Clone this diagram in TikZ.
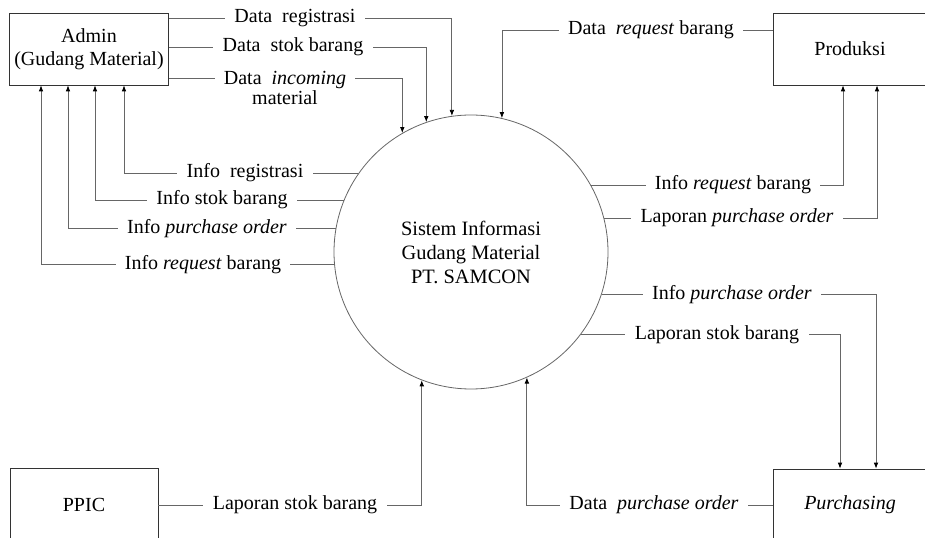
\documentclass[tikz,border=0pt]{standalone}
\usepackage{fontspec}
\setmainfont{LiberationSerif}[Extension=.ttf, UprightFont=*-Regular, ItalicFont=*-Italic, BoldFont=*-Bold, BoldItalicFont=*-BoldItalic]
\usetikzlibrary{arrows.meta}
\tikzset{
  box/.style={draw=black!80, line width=0.6pt, rectangle, minimum height=54pt, align=center, font=\fontsize{15}{17}\selectfont},
  proc/.style={draw=black!60, line width=0.6pt, circle, minimum size=205.5pt, inner sep=0pt, align=center, font=\fontsize{15.3}{18}\selectfont},
  flow/.style={draw=black!60, line width=0.6pt, -{Latex[black, length=4.5pt, width=3.5pt]}},
  lbl/.style={fill=white, inner xsep=7pt, inner ysep=1pt, align=center, font=\fontsize{15}{15}\selectfont}
}
\begin{document}
\begin{tikzpicture}[x=0.75pt, y=-0.75pt]
\useasboundingbox (0,0) rectangle (925,538);
\clip (0,0) rectangle (925,538);
% external entities
\node[box, minimum width=118.5pt] (admin) at (89,49) {Admin\\(Gudang Material)};
\node[box, minimum width=115.5pt] (prod) at (850,49) {Produksi};
\node[box, minimum width=111pt, minimum height=55.5pt] (ppic) at (84,505) {PPIC};
\node[box, minimum width=115.5pt] (purch) at (850,505) {\textit{Purchasing}};
% process
\node[proc] (sim) at (471,252) {Sistem Informasi\\Gudang Material\\PT. SAMCON};
% admin -> sistem
\draw[flow] (admin.east |- 0,18) -| (sim.98);
\draw[flow] (admin.east |- 0,47) -| (sim.109);
\draw[flow] (admin.east |- 0,78) -| (sim.120);
% sistem -> admin
\draw[flow] (sim.145) -| (admin.south -| 124,0);
\draw[flow] (sim.158) -| (admin.south -| 95,0);
\draw[flow] (sim.170) -| (admin.south -| 68,0);
\draw[flow] (sim.185) -| (admin.south -| 41,0);
% produksi
\draw[flow] (prod.west |- 0,30) -| (sim.77);
\draw[flow] (sim.29) -| (prod.south -| 843,0);
\draw[flow] (sim.14) -| (prod.south -| 877,0);
% purchasing
\draw[flow] (sim.342) -| (purch.north -| 876,0);
\draw[flow] (sim.323) -| (purch.north -| 840,0);
\draw[flow] (purch.west) -| (sim.294);
% ppic
\draw[flow] (ppic.east) -| (sim.249);
% labels
\node[lbl] (ldreg) at (295,18) {Data~ registrasi};
\node[lbl] (ldstok) at (293,47) {Data~ stok barang};
\node[lbl] (ldinc) at (285,87.5) {Data~ \textit{incoming}\\material};
\node[lbl] (ldreq) at (651,30) {Data~ \textit{request} barang};
\node[lbl] (lireg) at (245,173) {Info~ registrasi};
\node[lbl] (listok) at (222,200) {Info stok barang};
\node[lbl] (lipo) at (207,229) {Info \textit{purchase order}};
\node[lbl] (lireq) at (203,265) {Info \textit{request} barang};
\node[lbl] (lireqr) at (733,185) {Info \textit{request} barang};
\node[lbl] (llpo) at (737,218) {Laporan \textit{purchase order}};
\node[lbl] (lipor) at (732,295) {Info \textit{purchase order}};
\node[lbl] (llstokr) at (717,335) {Laporan stok barang};
\node[lbl] (ldpo) at (654,505) {Data~ \textit{purchase order}};
\node[lbl] (llstok) at (295,505) {Laporan stok barang};
\end{tikzpicture}
\end{document}
